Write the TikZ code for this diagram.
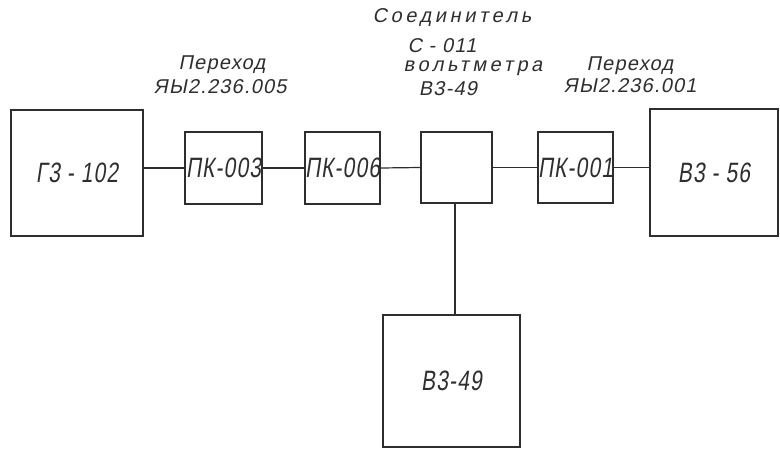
\documentclass[tikz,border=0pt]{standalone}
\usepackage{fontspec}
\setmainfont{Liberation Sans}
\newfontfamily\lblfont[FakeSlant=0.2,LetterSpace=6]{Liberation Sans}
\newfontfamily\widefont[FakeSlant=0.2,LetterSpace=18]{Liberation Sans}
\newfontfamily\boxfont[FakeSlant=0.15,FakeStretch=0.75,LetterSpace=4]{Liberation Sans}
\definecolor{ink}{HTML}{2E2E2E}
\begin{document}
\begin{tikzpicture}[x=1pt,y=-1pt,
  blk/.style={draw=ink, line width=1.3pt, inner sep=0pt, text=ink,
              font=\boxfont\fontsize{28}{30}\selectfont},
  wire/.style={draw=ink, line width=1.2pt},
  lbl/.style={inner sep=0pt, text=ink, font=\lblfont\fontsize{20}{22}\selectfont},
  wlbl/.style={inner sep=0pt, text=ink, font=\widefont\fontsize{20}{22}\selectfont}]
\useasboundingbox (0,0) rectangle (780,450);
% blocks
\node[blk, minimum width=132pt, minimum height=126pt] (g)   at (77,173)    {Г3 - 102};
\node[blk, minimum width=77pt,  minimum height=72pt]  (p3)  at (223.5,168) {ПК-003};
\node[blk, minimum width=75pt,  minimum height=72pt]  (p6)  at (342.5,168) {ПК-006};
\node[blk, minimum width=71pt,  minimum height=71pt]  (m)   at (456.5,167.5) {};
\node[blk, minimum width=75pt,  minimum height=71pt]  (p1)  at (575.5,167.5) {ПК-001};
\node[blk, minimum width=128pt, minimum height=127pt] (v56) at (714,172.5) {В3 - 56};
\node[blk, minimum width=137pt, minimum height=132pt] (v49) at (451.5,381) {В3-49};
% connectors
\draw[wire] (p3.west -| g.east) -- (p3.west);
\draw[wire] (p3.east) -- (p6.west);
\draw[wire] (p6.east) -- (m.west);
\draw[wire] (m.east) -- (p1.west);
\draw[wire] (p1.east) -- (p1.east -| v56.west);
\draw[wire] (m.south -| 455,0) -- (v49.north -| 455,0);
% labels
\node[lbl]  (la1) at (222,65) {Переход};
\node[lbl]  (la2) at (220,87) {ЯЫ2.236.005};
\node[wlbl] (t1)  at (452,18) {Соединитель};
\node[lbl]  (t2)  at (442,46) {С - 011};
\node[wlbl] (t3)  at (473,68) {вольтметра};
\node[lbl]  (t4)  at (448,89) {В3-49};
\node[lbl]  (lb1) at (630,66) {Переход};
\node[lbl]  (lb2) at (630,86) {ЯЫ2.236.001};
\end{tikzpicture}
\end{document}
